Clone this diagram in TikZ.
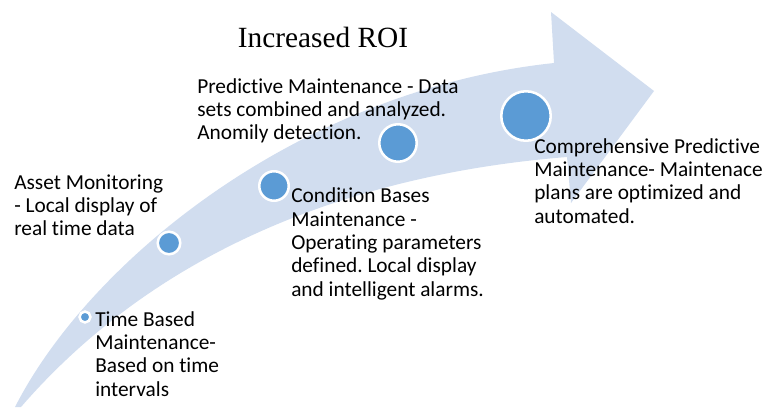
\documentclass[tikz,border=0pt]{standalone}
\usepackage{fontspec}
\setmainfont{Carlito}[Ligatures=NoCommon]
\newfontfamily\roifont{Liberation Serif}
\definecolor{bandblue}{RGB}{209,221,239}
\definecolor{dotblue}{RGB}{91,155,213}
\frenchspacing

\begin{document}
\begin{tikzpicture}[x=0.75pt, y=-0.75pt,
    milestone/.style={circle, draw=white, line width=1.9pt, fill=dotblue, inner sep=0pt},
    steptext/.style={anchor=base west, align=left, inner sep=0pt, font=\fontsize{16}{17.5}\selectfont}]
        \useasboundingbox (0,0) rectangle (762,407);

        % Curved arrow
        \fill[bandblue] (15,407) .. controls (90,260) and (300,90) .. (554,63)
            -- (551,12) -- (654,91) -- (571,203) -- (567,157)
            .. controls (380,172) and (170,235) .. (21,407) -- cycle;

        % Title
        \node[anchor=base, font=\roifont\fontsize{22}{26}\selectfont] (roi) at (323,47) {Increased ROI};

        % Milestones
        \node[milestone, minimum size=8.2pt] (tbm) at (85,317) {};
        \node[milestone, minimum size=16.9pt] (am) at (169,243) {};
        \node[milestone, minimum size=22.1pt] (cbm) at (274,186) {};
        \node[milestone, minimum size=28.1pt] (pm) at (398,143) {};
        \node[milestone, minimum size=37.1pt] (cpm) at (526,116) {};

        % Descriptions (anchored at the last line)
        \node[steptext] (tbmtext) at (95,396) {Time Based\\Maintenance-\\Based on time\\intervals};
        \node[steptext] (amtext) at (14,235.7) {Asset Monitoring\\- Local display of\\real time data};
        \node[steptext] (cbmtext) at (291,296.3) {Condition Bases\\Maintenance -\\Operating parameters\\defined. Local display\\and intelligent alarms.};
        \node[steptext] (pmtext) at (197,139.7) {Predictive Maintenance - Data\\sets combined and analyzed.\\Anomily detection.};
        \node[steptext] (cpmtext) at (534,223) {Comprehensive Predictive\\Maintenance- Maintenace\\plans are optimized and\\automated.};
    \end{tikzpicture}
\end{document}
